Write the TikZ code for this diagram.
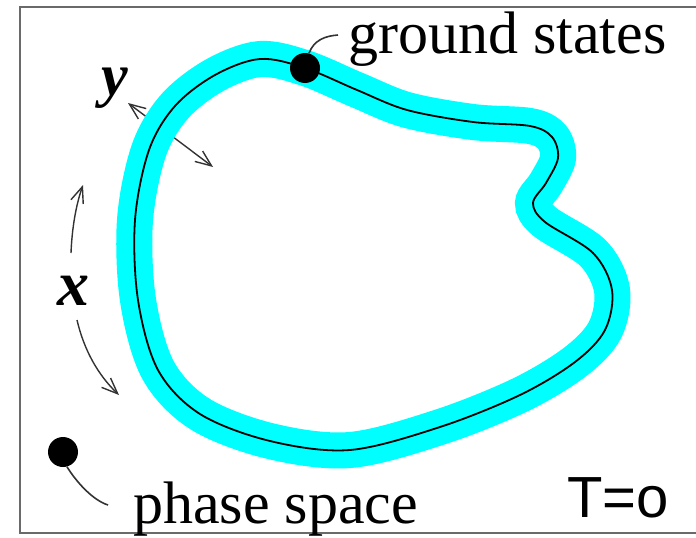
\documentclass[tikz,border=0pt]{standalone}
\usepackage{fontspec}
\setmainfont{Liberation Serif}
\newfontfamily\arialfont{Liberation Sans}
\usetikzlibrary{arrows.meta}
\definecolor{band}{HTML}{00FFFF}
\definecolor{framegray}{HTML}{6A6A6A}
\definecolor{arrgray}{HTML}{333333}
\tikzset{
  dot/.style={circle, fill=black, inner sep=0pt, minimum size=30pt},
  lbl/.style={anchor=base west, inner sep=0pt, font=\fontsize{60}{70}\selectfont},
  leader/.style={draw=arrgray, line width=1.6pt},
  barb/.tip={Straight Barb[length=16pt,width=13pt,line width=1.4pt]},
  axarrow/.style={draw=arrgray, line width=1.4pt, -barb},
}
\begin{document}
\begin{tikzpicture}[x=1pt,y=-1pt]
\useasboundingbox (0,0) rectangle (696,538);
\begin{scope}
\clip (0,0) rectangle (696,538);
\draw[framegray, line width=2.2pt] (20,7) rectangle (720,533);
\end{scope}
% arrows
\coordinate (ya) at (128,103);
\coordinate (yb) at (213,167);
\draw[axarrow, barb-barb] (ya) -- (yb);
\coordinate (xua) at (71,253);
\coordinate (xub) at (83,185);
\draw[axarrow] (xua) .. controls (72,228) and (76,205) .. (xub);
\coordinate (xda) at (77,320);
\coordinate (xdb) at (119,395);
\draw[axarrow] (xda) .. controls (84,350) and (98,375) .. (xdb);
% band
\def\bandpath{plot[smooth cycle, tension=0.55] coordinates {(305,68) (357,90) (407,110) (473,122) (530,126) (552,137) (558,158) (546,183) (533,203) (545,222) (593,253) (612,290) (605,330) (575,362) (520,395) (440,427) (350,450) (270,441) (200,414) (158,370) (138,300) (135,220) (149,150) (175,106) (215,75) (260,59)}}
\draw[band, line width=36pt] \bandpath;
\draw[black, line width=1.8pt] \bandpath;
% labels
\node[anchor=center, inner sep=0pt, font=\fontsize{60}{64}\selectfont\bfseries\itshape] (ylab) at (115,88) {y};
\node[anchor=center, inner sep=0pt, font=\fontsize{64}{68}\selectfont\bfseries\itshape] (xlab) at (73,291) {x};
% ground states
\node[dot] (gdot) at (305,68) {};
\node[lbl] (gs) at (348,53) {ground states};
\coordinate (gsl) at (338,35);
\draw[leader] (gdot.75) .. controls (314,40) and (325,36) .. (gsl);
% phase space
\node[dot] (pdot) at (63,452) {};
\node[lbl] (ps) at (133,523) {phase space};
\coordinate (psl) at (108,505);
\draw[leader] (pdot.-75) .. controls (75,480) and (92,500) .. (psl);
% T=o
\node[anchor=base west, inner sep=0pt, font=\arialfont\fontsize{58}{66}\selectfont] (temp) at (567,517) {T=o};
\end{tikzpicture}
\end{document}
